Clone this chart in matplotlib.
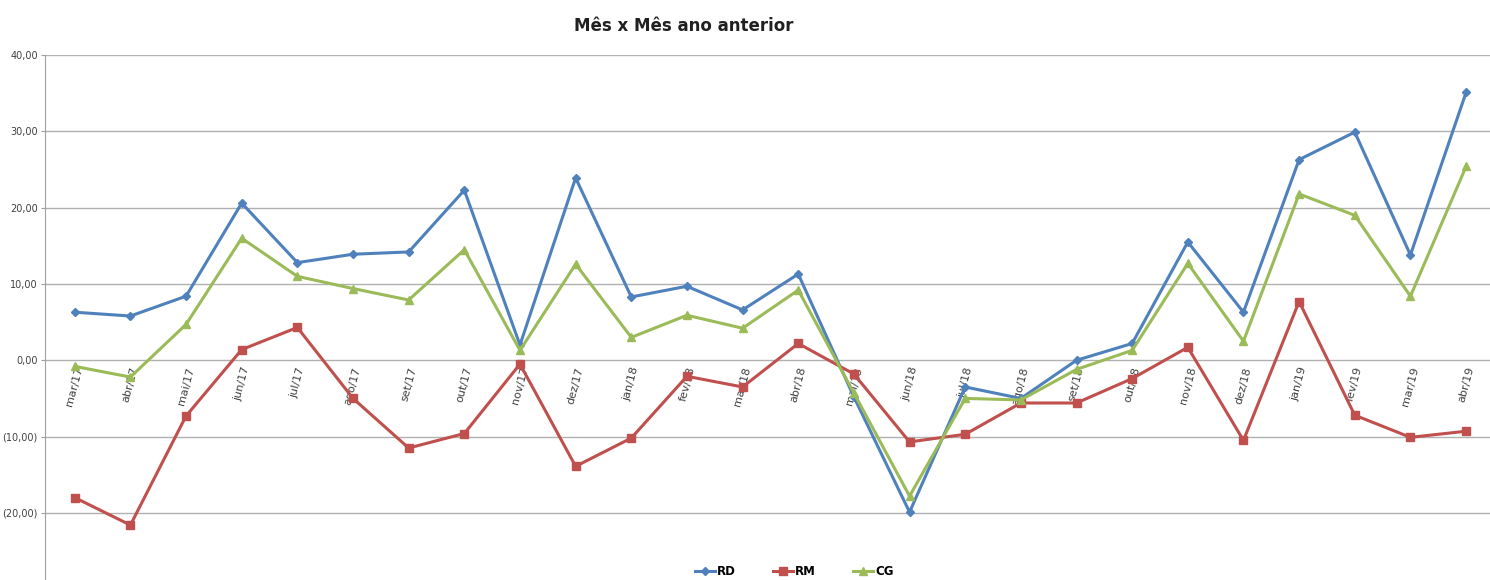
import matplotlib.pyplot as plt
from matplotlib.ticker import FuncFormatter

# Meses
meses = ['mar/17', 'abr/17', 'mai/17', 'jun/17', 'jul/17', 'ago/17', 'set/17', 'out/17',
         'nov/17', 'dez/17', 'jan/18', 'fev/18', 'mar/18', 'abr/18', 'mai/18', 'jun/18',
         'jul/18', 'ago/18', 'set/18', 'out/18', 'nov/18', 'dez/18', 'jan/19', 'fev/19',
         'mar/19', 'abr/19']

# Séries
rd = [6.3, 5.8, 8.4, 20.6, 12.8, 13.9, 14.2, 22.3, 2.0, 23.9, 8.3, 9.7, 6.6, 11.3,
      -4.8, -19.9, -3.5, -5.0, 0.0, 2.2, 15.5, 6.3, 26.3, 29.9, 13.8, 35.1]
rm = [-18.0, -21.6, -7.3, 1.4, 4.3, -5.0, -11.5, -9.6, -0.5, -13.9, -10.2, -2.1, -3.5, 2.2,
      -1.8, -10.7, -9.7, -5.6, -5.6, -2.4, 1.7, -10.5, 7.7, -7.2, -10.1, -9.3]
cg = [-0.8, -2.2, 4.7, 16.0, 11.0, 9.4, 7.9, 14.5, 1.3, 12.6, 3.0, 5.9, 4.2, 9.2,
      -4.3, -17.8, -5.0, -5.2, -1.2, 1.3, 12.7, 2.5, 21.8, 19.0, 8.4, 25.4]

fig = plt.figure(figsize=(14.9, 5.8), dpi=100)
ax = fig.add_axes([0.030, 0.0, 0.970, 0.905])

x = range(len(meses))
ax.plot(x, rd, color='#4F81BD', lw=2.2, marker='D', ms=4.5, label='RD')
ax.plot(x, rm, color='#C0504D', lw=2.2, marker='s', ms=6, label='RM')
ax.plot(x, cg, color='#9BBB59', lw=2.2, marker='^', ms=6, label='CG')

ax.set_xlim(-0.54, 25.43)
ax.set_ylim(-28.8, 40)
ax.set_yticks([-20, -10, 0, 10, 20, 30, 40])
ax.yaxis.grid(True, color='#B0B0B0', lw=1)
ax.set_axisbelow(True)

def fmt(v, pos):
    if v < 0:
        return '({:.2f})'.format(-v).replace('.', ',')
    return '{:.2f}'.format(v).replace('.', ',')

ax.yaxis.set_major_formatter(FuncFormatter(fmt))
ax.tick_params(axis='y', labelsize=7, labelcolor='#404040', color='#A0A0A0', length=3, pad=2)

# Eixo de categorias no zero
ax.spines['bottom'].set_position(('data', 0))
ax.spines['bottom'].set_visible(False)
ax.spines['top'].set_visible(False)
ax.spines['right'].set_visible(False)
ax.spines['left'].set_color('#A0A0A0')
ax.set_xticks(list(x))
ax.set_xticklabels(meses, rotation=75, fontsize=8, color='#404040')
ax.tick_params(axis='x', length=0, pad=4)

fig.text(0.459, 0.955, 'Mês x Mês ano anterior', ha='center', va='center',
         fontsize=12, fontweight='bold', color='#202020')

fig.legend(loc='lower center', bbox_to_anchor=(0.533, -0.015), ncol=3, frameon=False,
           handlelength=1.7, columnspacing=3.1, handletextpad=0.2,
           prop={'weight': 'bold', 'size': 8.5})

fig.savefig('out.png', dpi=100)
